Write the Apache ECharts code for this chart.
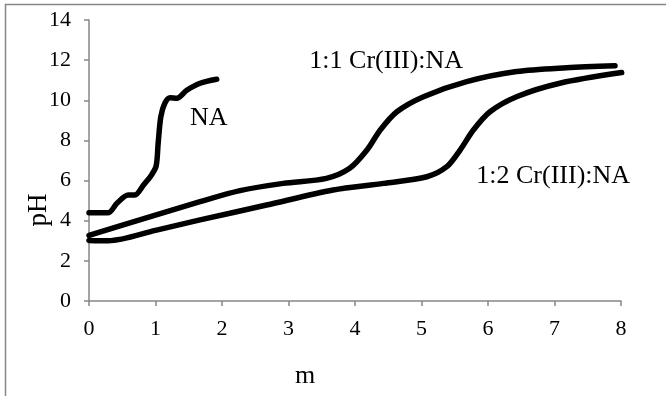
<!DOCTYPE html>
<html>
<head>
<meta charset="utf-8">
<script src="https://cdn.jsdelivr.net/npm/echarts@6/dist/echarts.min.js"></script>
<style>
  html, body { margin: 0; padding: 0; background: #fff; }
  #chart { width: 666px; height: 396px; }
</style>
</head>
<body>
<div id="chart"></div>
<script>
// pH titration curves, values as [m, pH]
const naCurve = [
  [0, 4.4], [0.29, 4.4], [0.42, 4.87], [0.59, 5.28], [0.69, 5.28],
  [0.82, 5.78], [0.94, 6.28], [1.01, 6.73], [1.04, 7.86], [1.08, 9.18],
  [1.14, 9.85], [1.22, 10.13], [1.32, 10.1], [1.47, 10.5], [1.67, 10.85],
  [1.92, 11.05],
];
const cr11Curve = [
  [0, 3.27], [0.8, 4.08], [1.67, 4.95], [2.27, 5.5], [2.92, 5.86], [3.57, 6.11],
  [3.92, 6.61], [4.18, 7.52], [4.38, 8.52], [4.63, 9.43], [5.03, 10.18],
  [5.68, 10.93], [6.43, 11.43], [7.18, 11.62], [7.91, 11.72],
];
const cr12Curve = [
  [0, 3.02], [0.29, 3.0], [1.0, 3.52], [1.67, 4.04], [2.67, 4.78], [3.67, 5.53],
  [4.43, 5.86], [5.08, 6.19], [5.38, 6.69], [5.58, 7.52], [5.78, 8.52],
  [6.03, 9.43], [6.43, 10.18], [7.08, 10.85], [8.01, 11.38],
];
const seriesNames = ['NA', '1:1 Cr(III):NA', '1:2 Cr(III):NA'];
// where each curve's text label sits, in data units
const labelSpots = [[1.8, 9.09], [4.47, 11.96], [6.98, 6.23]];

const font = 'Liberation Serif, Times New Roman, serif';
const axisGrey = '#868686';

const chart = echarts.init(document.getElementById('chart'));

const makeSeries = (name, data, spot) => ({
  name,
  type: 'line',
  data,
  smooth: 0.3,
  showSymbol: false,
  lineStyle: { color: '#000', width: 5.5, cap: 'round', join: 'round' },
  markPoint: {
    symbol: 'circle',
    symbolSize: 0,
    label: { show: true, formatter: name, color: '#000', fontFamily: font, fontSize: 26 },
    data: [{ coord: spot }],
  },
});

chart.setOption({
  animation: false,
  grid: { left: 89, right: 45, top: 20, bottom: 95 },
  xAxis: {
    type: 'value',
    min: 0, max: 8, interval: 1,
    axisLine: { lineStyle: { color: axisGrey, width: 1.5 } },
    axisTick: { lineStyle: { color: axisGrey, width: 1.5 }, length: 5 },
    splitLine: { show: false },
    axisLabel: { color: '#000', fontFamily: font, fontSize: 22, margin: 17 },
  },
  yAxis: {
    type: 'value',
    min: 0, max: 14, interval: 2,
    axisLine: { show: true, lineStyle: { color: axisGrey, width: 1.5 } },
    axisTick: { show: true, lineStyle: { color: axisGrey, width: 1.5 }, length: 5 },
    splitLine: { show: false },
    axisLabel: { color: '#000', fontFamily: font, fontSize: 22, margin: 18 },
  },
  graphic: [
    {
      type: 'rect', silent: true, z: -1,
      shape: { x: 5.5, y: 4.5, width: 700, height: 420 },
      style: { fill: 'none', stroke: '#868686', lineWidth: 1.5 },
    },
    {
      type: 'text', x: 305, y: 376,
      style: { text: 'm', font: '26px ' + font, fill: '#000', align: 'center', verticalAlign: 'middle' },
    },
    {
      type: 'text', x: 39, y: 210, rotation: Math.PI / 2,
      style: { text: 'pH', font: '27px ' + font, fill: '#000', align: 'center', verticalAlign: 'middle' },
    },
  ],
  series: [
    makeSeries(seriesNames[0], naCurve, labelSpots[0]),
    makeSeries(seriesNames[1], cr11Curve, labelSpots[1]),
    makeSeries(seriesNames[2], cr12Curve, labelSpots[2]),
  ],
});
</script>
</body>
</html>
